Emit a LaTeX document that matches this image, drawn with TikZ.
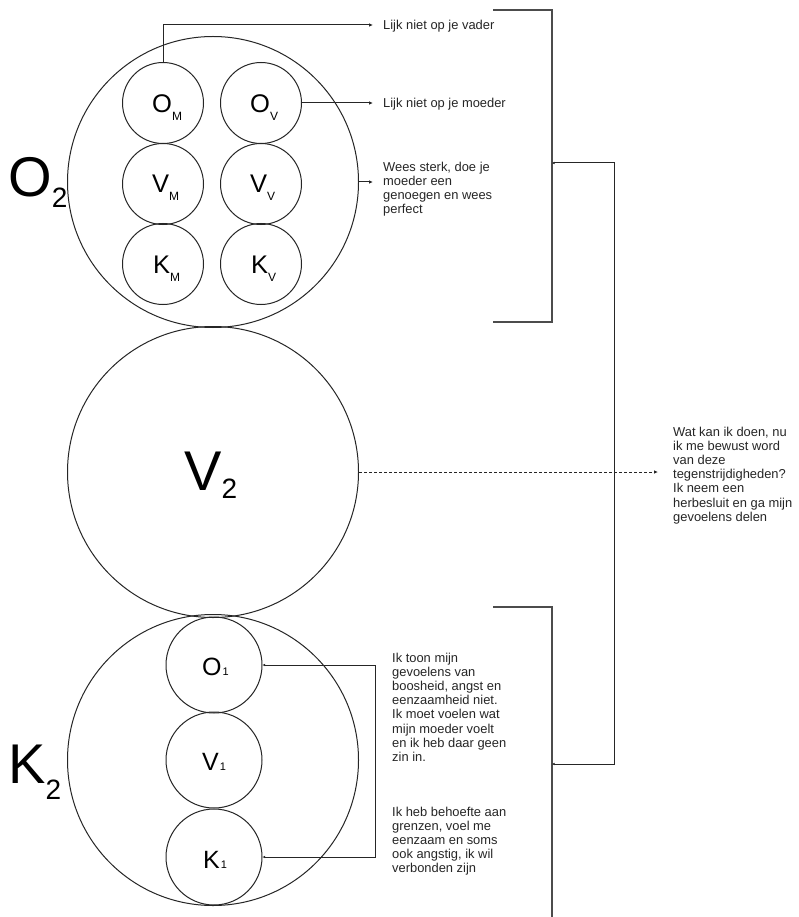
\documentclass[tikz,border=0pt]{standalone}
\usepackage{fontspec}
\setmainfont{Liberation Sans}
\usetikzlibrary{arrows.meta}
\begin{document}
\begin{tikzpicture}[x=1pt,y=-1pt,
  ln/.style={line width=1pt, draw=black!85},
  big/.style={circle, ln, minimum size=291pt, inner sep=0},
  sm/.style={circle, ln, minimum size=81pt, inner sep=0},
  md/.style={circle, ln, minimum size=96pt, inner sep=0},
  txt/.style={font=\fontsize{12.9}{14.2}\selectfont, inner sep=0, align=left, text=black!85},
  lbl/.style={inner sep=0, anchor=base west, text=black},
  tip/.style={-{Latex[length=4pt,width=3.5pt]}},
  tiptwo/.style={{Latex[length=2.5pt,width=2.5pt]}-{Latex[length=2.5pt,width=2.5pt]}},
  brk/.style={line width=1.3pt, draw=black!70},
]
\useasboundingbox[fill=white] (0,0) rectangle (798,917);

% big circles
\node[big] (O2) at (213,182) {};
\node[big] (V2) at (213,472) {};
\node[big] (K2) at (213,760) {};

% big labels
\node[lbl] (O2l) at (8,197) {{\fontsize{56}{56}\selectfont O}\raisebox{-10pt}{\fontsize{28}{28}\selectfont 2}};
\node[lbl] (V2l) at (184,490) {{\fontsize{56}{56}\selectfont V}\raisebox{-8pt}{\fontsize{28}{28}\selectfont 2}};
\node[lbl] (K2l) at (8,783) {{\fontsize{56}{56}\selectfont K}\raisebox{-16pt}{\fontsize{28}{28}\selectfont 2}};

% small circles in O2
\node[sm] (OM) at (163,103) {};
\node[sm] (VM) at (163,184) {};
\node[sm] (KM) at (163,264) {};
\node[sm] (OV) at (261,103) {};
\node[sm] (VV) at (261,184) {};
\node[sm] (KV) at (261,264) {};
\node[lbl] at (152,113) {{\fontsize{25.5}{25}\selectfont O}\raisebox{-8pt}{\fontsize{12}{12}\selectfont M}};
\node[lbl] at (152,193) {{\fontsize{25.5}{25}\selectfont V}\raisebox{-8pt}{\fontsize{12}{12}\selectfont M}};
\node[lbl] at (153,273) {{\fontsize{25.5}{25}\selectfont K}\raisebox{-8pt}{\fontsize{12}{12}\selectfont M}};
\node[lbl] at (250,113) {{\fontsize{25.5}{25}\selectfont O}\raisebox{-8pt}{\fontsize{12}{12}\selectfont V}};
\node[lbl] at (250,193) {{\fontsize{25.5}{25}\selectfont V}\raisebox{-8pt}{\fontsize{12}{12}\selectfont V}};
\node[lbl] at (251,273) {{\fontsize{25.5}{25}\selectfont K}\raisebox{-8pt}{\fontsize{12}{12}\selectfont V}};

% small circles in K2
\node[md] (O1) at (214,665) {};
\node[md] (V1) at (214,760) {};
\node[md] (K1) at (214,857) {};
\node[lbl] at (202,675) {{\fontsize{25}{25}\selectfont O}{\fontsize{11}{11}\selectfont\kern1pt 1}};
\node[lbl] at (202,770) {{\fontsize{25}{25}\selectfont V}{\fontsize{11}{11}\selectfont\kern1pt 1}};
\node[lbl] at (203,868) {{\fontsize{25}{25}\selectfont K}{\fontsize{11}{11}\selectfont\kern1pt 1}};

% text blocks
\coordinate (avader) at (373,25);
\coordinate (amoeder) at (373,103);
\coordinate (asterk) at (373,182);
\coordinate (awat) at (658,472);
\node[txt, anchor=base west] (tvader) at (383,29.5) {Lijk niet op je vader};
\node[txt, anchor=base west] (tmoeder) at (383,107.5) {Lijk niet op je moeder};
\node[txt, anchor=north west] (tsterk) at (383,161.5) {Wees sterk, doe je\\moeder een\\genoegen en wees\\perfect};
\node[txt, anchor=north west] (twat) at (673,426.5) {Wat kan ik doen, nu\\ik me bewust word\\van deze\\tegenstrijdigheden?\\Ik neem een\\herbesluit en ga mijn\\gevoelens delen};
\node[txt, anchor=north west] (ttoon) at (392,652.5) {Ik toon mijn\\gevoelens van\\boosheid, angst en\\eenzaamheid niet.\\Ik moet voelen wat\\mijn moeder voelt\\en ik heb daar geen\\zin in.};
\node[txt, anchor=north west] (theb) at (392,806.5) {Ik heb behoefte aan\\grenzen, voel me\\eenzaam en soms\\ook angstig, ik wil\\verbonden zijn};

% connectors
\draw[ln, tip] (OM.north) |- (avader);
\draw[ln, tip] (OV.east) -- (amoeder);
\draw[ln, tip] (O2.east) -- (asterk);
\draw[ln, tiptwo] (O1.east) -- (375,665) |- (K1.east);
\draw[ln, dashed, dash pattern=on 3pt off 2pt, tip] (V2.east) -- (awat);

% brackets
\coordinate (bt1) at (493,10);
\coordinate (bt2) at (493,322);
\coordinate (bb1) at (493,607);
\coordinate (bb2) at (552,917);
\coordinate (jt) at (552,163);
\coordinate (jb) at (552,764);
\draw[brk] (bt1) -- (552,10) -- (552,322) -- (bt2);
\draw[brk] (bb1) -- (552,607) -- (bb2);
\draw[ln, tiptwo] (jt) -- (614,163) -- (614,764) -- (jb);
\end{tikzpicture}
\end{document}
